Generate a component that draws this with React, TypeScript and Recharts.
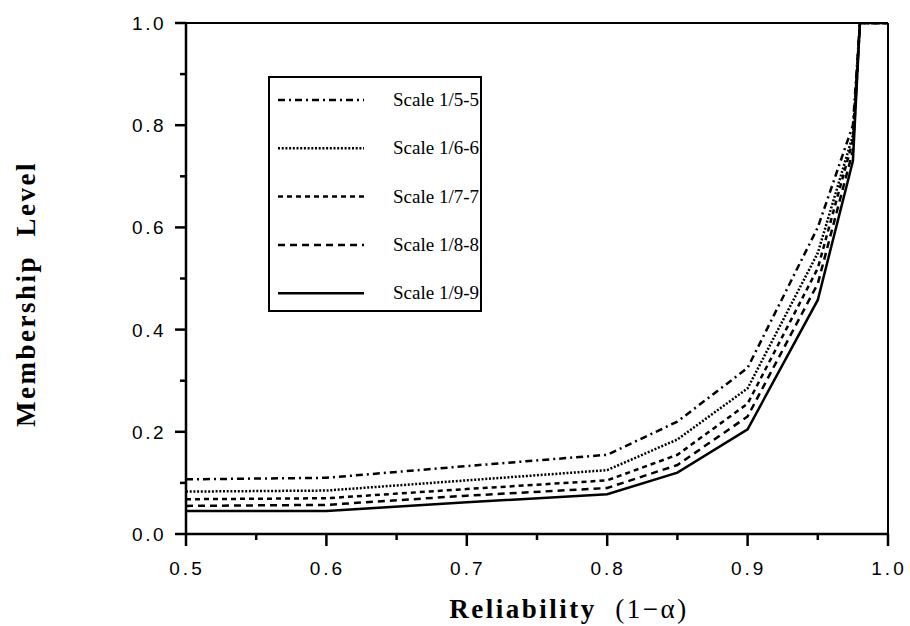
import { LineChart, Line, XAxis, YAxis, ReferenceLine, Legend, Label } from 'recharts';

// reliability (1 - alpha)
const reliability = [0.5, 0.6, 0.7, 0.8, 0.85, 0.9, 0.95, 0.975, 0.98, 1.0];

// membership level for each scale
const scale5 = [0.107, 0.11, 0.133, 0.155, 0.22, 0.325, 0.6, 0.8, 1.0, 1.0];
const scale6 = [0.083, 0.085, 0.105, 0.125, 0.185, 0.285, 0.55, 0.78, 1.0, 1.0];
const scale7 = [0.068, 0.07, 0.088, 0.105, 0.155, 0.255, 0.52, 0.77, 1.0, 1.0];
const scale8 = [0.055, 0.057, 0.075, 0.09, 0.135, 0.23, 0.49, 0.75, 1.0, 1.0];
const scale9 = [0.045, 0.045, 0.062, 0.078, 0.12, 0.205, 0.458, 0.73, 1.0, 1.0];

const xTicks = [0.5, 0.55, 0.6, 0.65, 0.7, 0.75, 0.8, 0.85, 0.9, 0.95, 1.0];
const yTicks = [0, 0.1, 0.2, 0.3, 0.4, 0.5, 0.6, 0.7, 0.8, 0.9, 1.0];

const series = [
  { key: 's5', name: 'Scale 1/5-5', dash: '7 4 2 4' },
  { key: 's6', name: 'Scale 1/6-6', dash: '2 1.7' },
  { key: 's7', name: 'Scale 1/7-7', dash: '5 4' },
  { key: 's8', name: 'Scale 1/8-8', dash: '7 5' },
  { key: 's9', name: 'Scale 1/9-9', dash: undefined },
];

const data = reliability.map((r, i) => ({
  r,
  s5: scale5[i],
  s6: scale6[i],
  s7: scale7[i],
  s8: scale8[i],
  s9: scale9[i],
}));

const tickFont = 'Liberation Sans, Arial, sans-serif';
const titleFont = 'Liberation Serif, Times New Roman, serif';

function XTick(props: any) {
  const { x, y, payload } = props;
  const major = Math.round(payload.value * 100) % 10 === 0;
  return (
    <g>
      <line x1={x} y1={y} x2={x} y2={y + (major ? 12 : 6)} stroke="#000" strokeWidth={2.5} />
      {major && (
        <text x={x + 1} y={y + 41} textAnchor="middle" fontFamily={tickFont} fontSize={19} letterSpacing={3} fill="#000">
          {payload.value.toFixed(1)}
        </text>
      )}
    </g>
  );
}

function YTick(props: any) {
  const { x, y, payload } = props;
  const major = Math.round(payload.value * 10) % 2 === 0;
  return (
    <g>
      <line x1={x} y1={y} x2={x - (major ? 11 : 6)} y2={y} stroke="#000" strokeWidth={2.5} />
      {major && (
        <text x={x - 20} y={y + 7} textAnchor="end" fontFamily={tickFont} fontSize={19} letterSpacing={2.5} fill="#000">
          {payload.value.toFixed(1)}
        </text>
      )}
    </g>
  );
}

function XTitle() {
  return (
    <text x={569} y={618} textAnchor="middle" fontFamily={titleFont} fontSize={27} letterSpacing={2.5} fill="#000">
      <tspan fontWeight="bold">Reliability</tspan>
      <tspan>{'\u00a0\u00a0(1\u2212\u03b1)'}</tspan>
    </text>
  );
}

function YTitle() {
  return (
    <text
      x={0}
      y={0}
      transform="translate(35 294) rotate(-90)"
      textAnchor="middle"
      fontFamily={titleFont}
      fontSize={27}
      fontWeight="bold"
      letterSpacing={2.5}
      fill="#000"
    >
      {'Membership\u00a0\u00a0Level'}
    </text>
  );
}

function LegendBox() {
  return (
    <div style={{ width: 214, height: 236, border: '2px solid #000', background: '#fff', boxSizing: 'border-box' }}>
      <svg width={210} height={232} style={{ display: 'block' }}>
        {series.map((s, i) => {
          const y = 22 + i * 48.3;
          return (
            <g key={s.key}>
              <line x1={8} x2={94} y1={y} y2={y} stroke="#000" strokeWidth={2.5} strokeDasharray={s.dash} />
              <text x={123} y={y + 6} fontFamily={titleFont} fontSize={19} fill="#000">
                {s.name}
              </text>
            </g>
          );
        })}
      </svg>
    </div>
  );
}

export default function App() {
  return (
    <div style={{ position: 'absolute', left: 0, top: 0 }}>
      <LineChart width={910} height={626} data={data} margin={{ top: 23, right: 22, bottom: 0, left: 0 }}>
        <XAxis
          dataKey="r"
          type="number"
          domain={[0.5, 1]}
          ticks={xTicks}
          allowDataOverflow
          tickSize={0}
          tickMargin={0}
          height={92}
          axisLine={{ stroke: '#000', strokeWidth: 2.5 }}
          tickLine={false}
          tick={<XTick />}
          interval={0}
        >
          <Label content={<XTitle />} />
        </XAxis>
        <YAxis
          type="number"
          domain={[0, 1]}
          ticks={yTicks}
          allowDataOverflow
          tickSize={0}
          tickMargin={0}
          width={186}
          axisLine={{ stroke: '#000', strokeWidth: 2.5 }}
          tickLine={false}
          tick={<YTick />}
          interval={0}
        >
          <Label content={<YTitle />} />
        </YAxis>
        <ReferenceLine y={1} stroke="#000" strokeWidth={2} />
        <ReferenceLine x={1} stroke="#000" strokeWidth={2} />
        {series.map((s) => (
          <Line
            key={s.key}
            dataKey={s.key}
            name={s.name}
            stroke="#000"
            strokeWidth={2.5}
            strokeDasharray={s.dash}
            dot={false}
            activeDot={false}
            type="linear"
            isAnimationActive={false}
          />
        ))}
        <Legend
          layout="vertical"
          align="center"
          verticalAlign="middle"
          content={<LegendBox />}
          wrapperStyle={{ left: 268, top: 76, width: 214, height: 236 }}
        />
      </LineChart>
    </div>
  );
}
